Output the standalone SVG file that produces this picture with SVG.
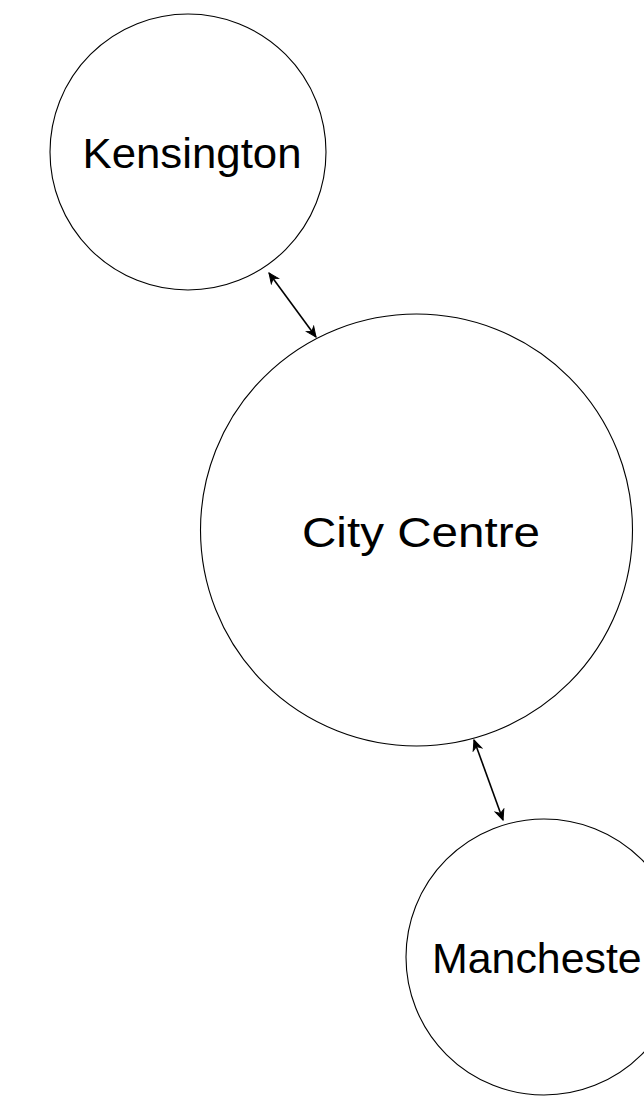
<svg xmlns="http://www.w3.org/2000/svg" width="644" height="1101" viewBox="0 0 644 1101">
<style>
.node{fill:#fff;stroke:#000;stroke-width:1.1}
.lbl{font-family:"Liberation Sans","DejaVu Sans",sans-serif;font-size:42px;fill:#000;text-anchor:middle}
.edge{stroke:#000;stroke-width:1.6;fill:none}
</style>
<defs>
<marker id="ah" viewBox="0 0 12 12" refX="11" refY="6" markerWidth="12" markerHeight="12" markerUnits="userSpaceOnUse" orient="auto-start-reverse">
<path d="M1,1.5 L11,6 L1,10.5 L4,6 Z" fill="#000" stroke="#000" stroke-width="1" stroke-linejoin="miter"/>
</marker>
</defs>
<g id="kensington">
<circle class="node" cx="188" cy="152" r="138"/>
<text class="lbl" x="192" y="168" textLength="219" lengthAdjust="spacingAndGlyphs">Kensington</text>
</g>
<g id="city-centre">
<circle class="node" cx="416.5" cy="530" r="216"/>
<text class="lbl" x="421" y="547" textLength="238" lengthAdjust="spacingAndGlyphs">City Centre</text>
</g>
<g id="manchester">
<circle class="node" cx="544" cy="957" r="138"/>
<text class="lbl" x="544" y="973" textLength="224" lengthAdjust="spacingAndGlyphs">Manchester</text>
</g>
<g id="connectors">
<line class="edge" x1="269" y1="273" x2="316" y2="337" marker-start="url(#ah)" marker-end="url(#ah)"/>
<line class="edge" x1="474" y1="740" x2="503" y2="820" marker-start="url(#ah)" marker-end="url(#ah)"/>
</g>
</svg>
